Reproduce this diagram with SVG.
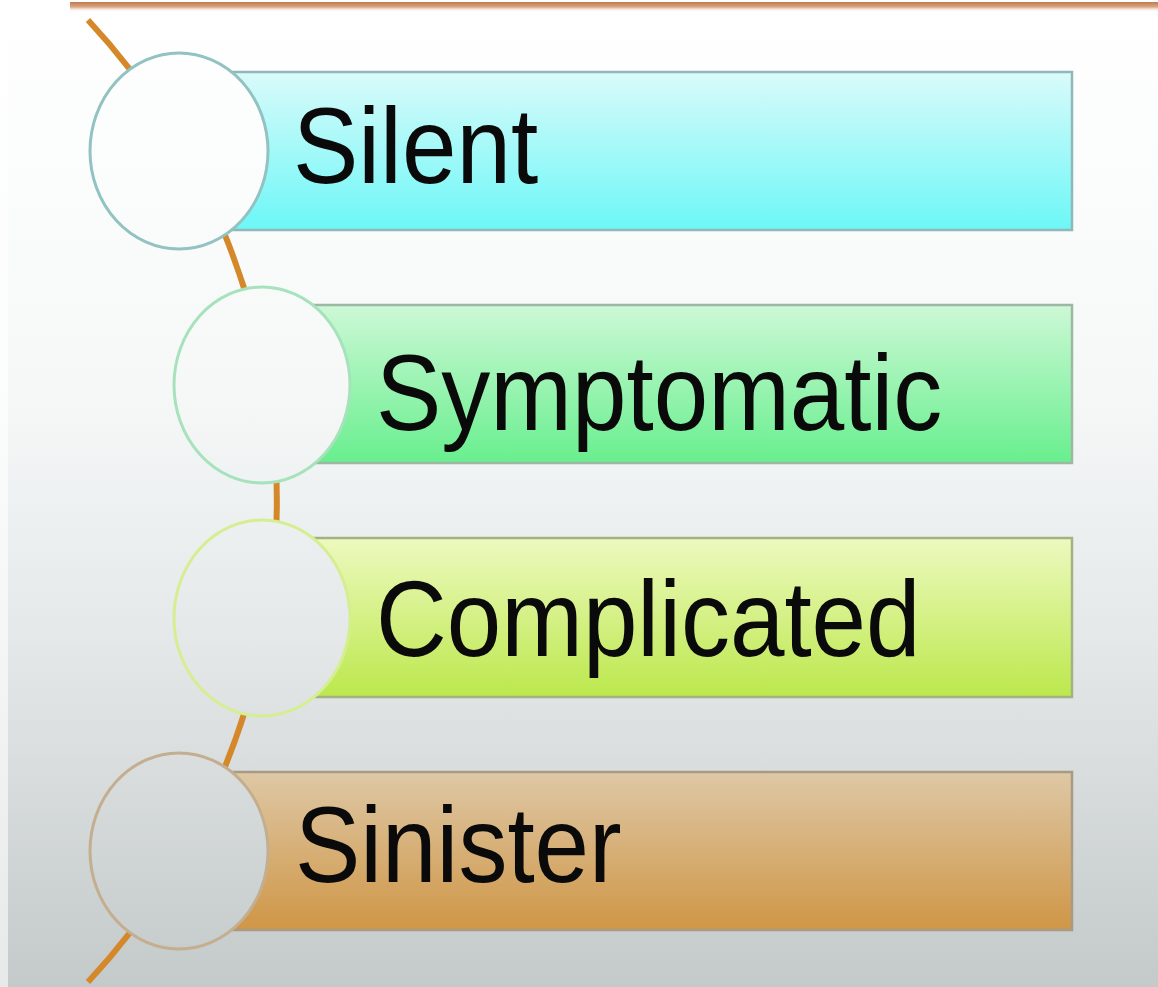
<svg xmlns="http://www.w3.org/2000/svg" width="1158" height="987" viewBox="0 0 1158 987">
<defs>
<linearGradient id="bg" gradientUnits="userSpaceOnUse" x1="0" y1="0" x2="0" y2="987">
<stop offset="0" stop-color="#ffffff"/>
<stop offset="0.4" stop-color="#f6f8f8"/>
<stop offset="0.65" stop-color="#e4e8e8"/>
<stop offset="1" stop-color="#c4c9c9"/>
</linearGradient>
<linearGradient id="topband" x1="0" y1="0" x2="0" y2="1">
<stop offset="0" stop-color="#c07a50"/>
<stop offset="0.5" stop-color="#dca680"/>
<stop offset="1" stop-color="#ffffff" stop-opacity="0"/>
</linearGradient>
<linearGradient id="g1" x1="0" y1="0" x2="0" y2="1">
<stop offset="0" stop-color="#dafafa"/>
<stop offset="1" stop-color="#6cf7f7"/>
</linearGradient>
<linearGradient id="g2" x1="0" y1="0" x2="0" y2="1">
<stop offset="0" stop-color="#cdf8d6"/>
<stop offset="1" stop-color="#68ef8e"/>
</linearGradient>
<linearGradient id="g3" x1="0" y1="0" x2="0" y2="1">
<stop offset="0" stop-color="#edf9bf"/>
<stop offset="1" stop-color="#bce84c"/>
</linearGradient>
<linearGradient id="g4" x1="0" y1="0" x2="0" y2="1">
<stop offset="0" stop-color="#dec8a6"/>
<stop offset="1" stop-color="#cf9646"/>
</linearGradient>
</defs>
<style>
.box{stroke-width:2.5}
.ring{fill:url(#bg);stroke-width:3}
.lbl{font-family:"Liberation Sans",Arial,sans-serif;font-size:98px;fill:#0a0a0a}
.spine{fill:none;stroke:#d4882a;stroke-width:6}
</style>
<rect width="1158" height="987" fill="url(#bg)"/>
<rect x="0" y="0" width="8" height="987" fill="#ffffff" opacity="0.6"/>
<rect x="70" y="2" width="1088" height="10" fill="url(#topband)"/>
<g id="connectors">
<path class="spine" d="M 88 20 A 707 707 0 0 1 88 982"/>
</g>
<g id="silent">
<rect class="box" x="179" y="72" width="893" height="158" fill="url(#g1)" stroke="#93b6b6"/>
<ellipse class="ring" cx="179" cy="151" rx="89" ry="98" stroke="#92c2c2"/>
<text class="lbl" transform="translate(293,183) scale(1,1.1)">Silent</text>
</g>
<g id="symptomatic">
<rect class="box" x="262" y="305" width="810" height="158" fill="url(#g2)" stroke="#9cb8a2"/>
<ellipse class="ring" cx="262" cy="385" rx="88" ry="98" stroke="#a6e2bc"/>
<text class="lbl" transform="translate(376,430) scale(1,1.1)">Symptomatic</text>
</g>
<g id="complicated">
<rect class="box" x="262" y="538" width="810" height="159" fill="url(#g3)" stroke="#a2b282"/>
<ellipse class="ring" cx="262" cy="618" rx="88" ry="98" stroke="#d6ee92"/>
<text class="lbl" transform="translate(376,656) scale(1,1.1)">Complicated</text>
</g>
<g id="sinister">
<rect class="box" x="179" y="772" width="893" height="158" fill="url(#g4)" stroke="#a89a84"/>
<ellipse class="ring" cx="179" cy="851" rx="89" ry="98" stroke="#c4ae90"/>
<text class="lbl" transform="translate(295,882) scale(1,1.1)">Sinister</text>
</g>
</svg>
